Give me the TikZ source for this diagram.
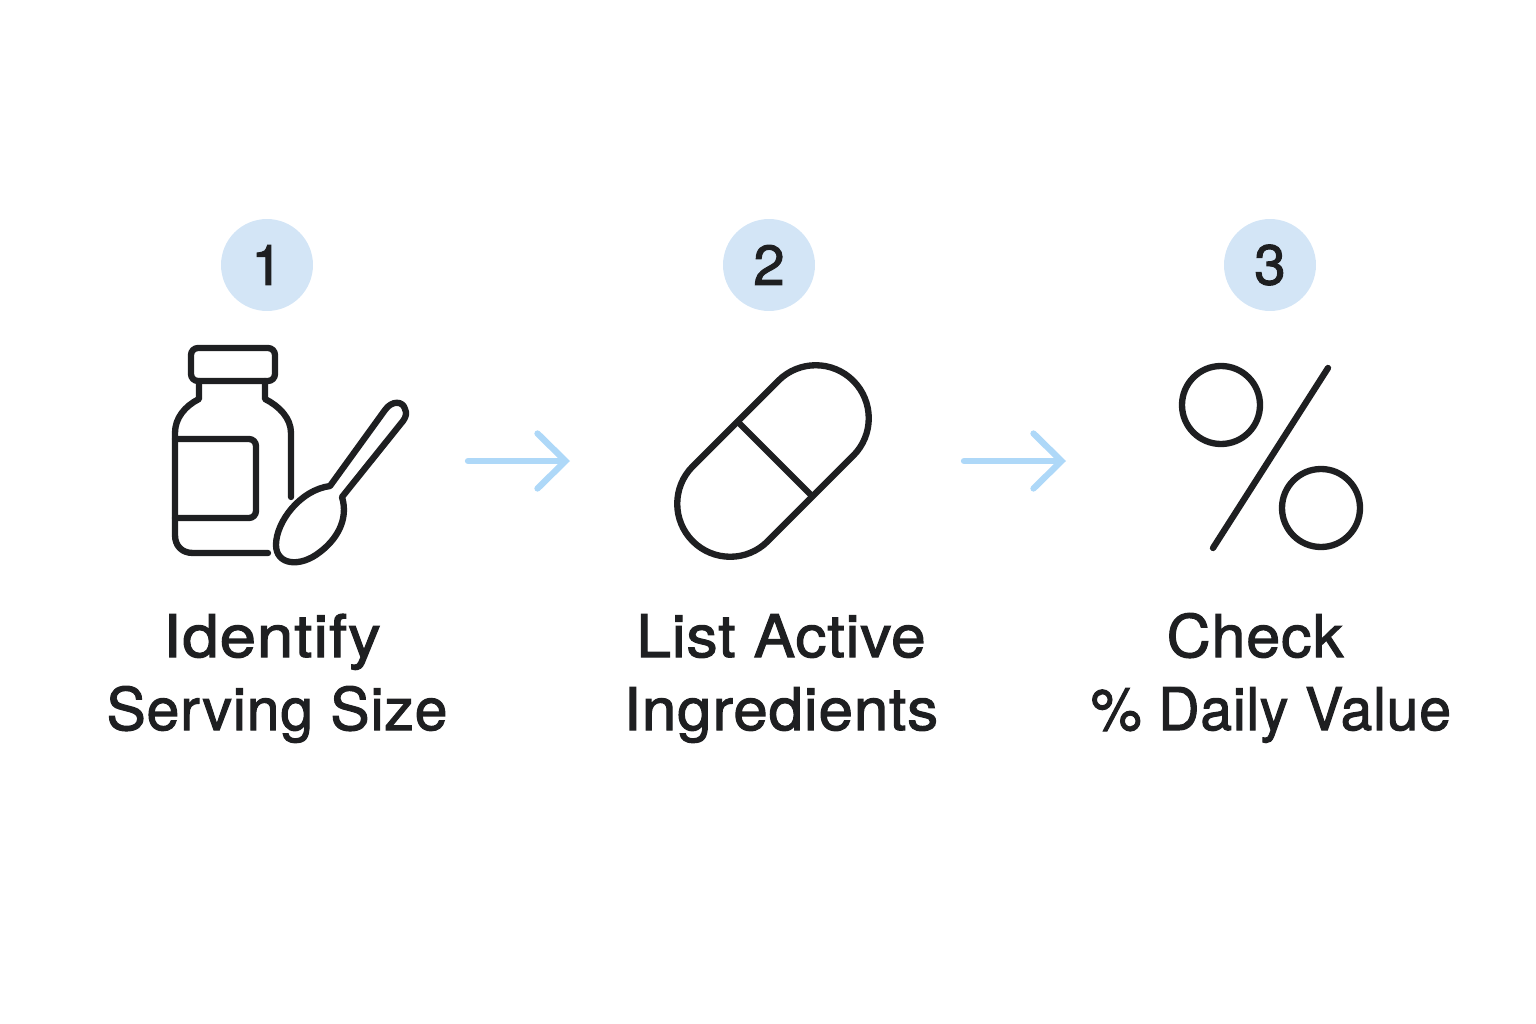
\documentclass[tikz,border=0pt]{standalone}
\usepackage{fontspec}
\setmainfont{TeX Gyre Heros}[UprightFeatures={FakeBold=1.8, LetterSpace=1.5}]
\usetikzlibrary{arrows.meta, positioning, calc}

\definecolor{inkgray}{HTML}{1E1F21}
\definecolor{badgeblue}{HTML}{D3E5F6}
\definecolor{arrowblue}{HTML}{AED8F8}

\tikzset{
    icon/.style={draw=inkgray, line width=3.6pt, line cap=round, line join=round},
    badge/.style={circle, fill=badgeblue, minimum size=1.84cm, inner sep=0pt, text=inkgray, font=\fontsize{32}{32}\selectfont},
    steplabel/.style={text=inkgray, inner sep=0pt, anchor=base, font=\fontsize{33.5}{33.5}\selectfont},
    flowarrow/.style={draw=arrowblue, line width=3.6pt, line cap=round, -{Straight Barb[length=0.56cm, width=1.1cm, line cap=round]}},
}

\begin{document}
\begin{tikzpicture}[x=0.02cm, y=-0.02cm]
    \useasboundingbox (0,0) rectangle (1536,1024);

    % Number badges
    \node[badge] (badge1) at (267,265) {1};
    \node[badge] (badge2) at (769,265) {2};
    \node[badge] (badge3) at (1270,265) {3};

    % Bottle
    \draw[icon, rounded corners=4pt] (191,348) rectangle (275,381);
    \draw[icon] (199,381) -- (199,399) .. controls (185,406) and (175,418) .. (175,433) -- (175,535)
        .. controls (175,546) and (182,553) .. (193,553) -- (268,553);
    \draw[icon] (265,381) -- (265,399) .. controls (279,406) and (291,418) .. (291,433) -- (291,497);
    \draw[icon, rounded corners=4pt] (175,439) -- (256,439) -- (256,518) -- (175,518);

    % Spoon
    \draw[icon] (330,486) -- (385,410) .. controls (392,400) and (403,401) .. (405,409)
        .. controls (407,413) and (406,417) .. (403,421) -- (342,497)
        .. controls (349,520) and (336,540) .. (320,552)
        .. controls (300,568) and (276,565) .. (276,545)
        .. controls (276,522) and (300,490) .. (330,486) -- cycle;

    % Pill
    \node[icon, rotate=45, rectangle, rounded corners=1.06cm, minimum width=4.54cm, minimum height=2.12cm, inner sep=0pt] (pill) at (773,461) {};
    \draw[icon] (739,423) -- (810,494);

    % Percent sign
    \draw[icon] (1221,405) circle (39);
    \draw[icon] (1321,508) circle (39);
    \draw[icon] (1328,368) -- (1213,548);

    % Arrows
    \coordinate (arrow1start) at (468,461);
    \coordinate (arrow1end) at (570,461);
    \coordinate (arrow2start) at (964,461);
    \coordinate (arrow2end) at (1066,461);
    \draw[flowarrow] (arrow1start) -- (arrow1end);
    \draw[flowarrow] (arrow2start) -- (arrow2end);

    % Labels
    \node[steplabel, xscale=1.11] (label1a) at (272,657) {Identify};
    \node[steplabel] (label1b) at (277,730) {Serving Size};
    \node[steplabel, xscale=1.055] (label2a) at (781,657) {List Active};
    \node[steplabel, xscale=1.05] (label2b) at (781,730) {Ingredients};
    \node[steplabel, xscale=1.035] (label3a) at (1255,657) {Check};
    \node[steplabel, xscale=0.97] (label3b) at (1271,730) {\% Daily Value};
\end{tikzpicture}
\end{document}
